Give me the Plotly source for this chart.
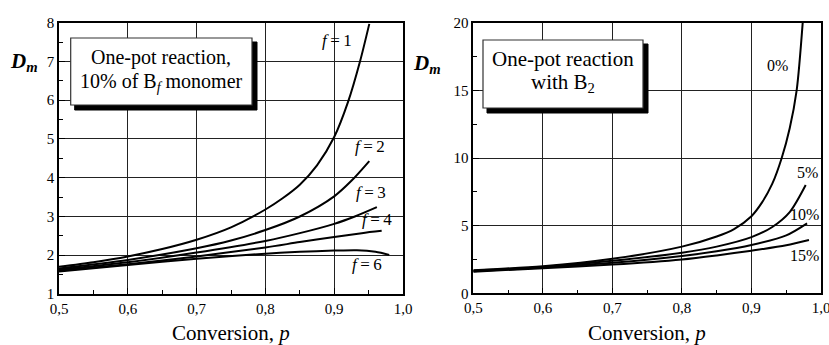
import plotly.graph_objects as go

# ---- data ----
p_f1 = [0.50, 0.55, 0.60, 0.65, 0.70, 0.75, 0.80, 0.825, 0.85, 0.875, 0.90, 0.92, 0.9375, 0.951]
D_f1 = [1.70, 1.82, 1.97, 2.16, 2.40, 2.72, 3.18, 3.47, 3.82, 4.32, 5.05, 5.95, 7.00, 7.97]
p_f2 = [0.50, 0.60, 0.70, 0.75, 0.80, 0.85, 0.90, 0.925, 0.951]
D_f2 = [1.66, 1.88, 2.18, 2.38, 2.65, 3.00, 3.52, 3.92, 4.43]
p_f3 = [0.50, 0.60, 0.70, 0.80, 0.85, 0.90, 0.93, 0.962]
D_f3 = [1.63, 1.82, 2.07, 2.37, 2.57, 2.81, 3.00, 3.24]
p_f4 = [0.50, 0.60, 0.70, 0.80, 0.85, 0.90, 0.94, 0.969]
D_f4 = [1.60, 1.77, 1.97, 2.20, 2.34, 2.47, 2.57, 2.63]
p_f6 = [0.50, 0.60, 0.70, 0.80, 0.85, 0.90, 0.933, 0.96, 0.980]
D_f6 = [1.58, 1.75, 1.91, 2.04, 2.09, 2.12, 2.13, 2.09, 2.01]
f_labels = ["<i>f</i>\u2009=\u20091", "<i>f</i>\u2009=\u20092", "<i>f</i>\u2009=\u20093",
            "<i>f</i>\u2009=\u20094", "<i>f</i>\u2009=\u20096"]

p_b0 = [0.50, 0.60, 0.70, 0.80, 0.85, 0.875, 0.90, 0.915, 0.93, 0.9435, 0.955, 0.965, 0.9737]
D_b0 = [1.70, 2.00, 2.55, 3.45, 4.20, 4.75, 5.70, 6.70, 8.10, 10.0, 12.2, 15.0, 20.0]
p_b5 = [0.50, 0.60, 0.70, 0.80, 0.85, 0.90, 0.93, 0.955, 0.978]
D_b5 = [1.67, 1.95, 2.40, 3.00, 3.45, 4.15, 4.90, 6.00, 8.00]
p_b10 = [0.50, 0.60, 0.70, 0.80, 0.85, 0.90, 0.95, 0.980]
D_b10 = [1.63, 1.90, 2.25, 2.75, 3.10, 3.57, 4.28, 5.17]
p_b15 = [0.50, 0.60, 0.70, 0.80, 0.85, 0.90, 0.95, 0.9827]
D_b15 = [1.60, 1.85, 2.12, 2.50, 2.80, 3.15, 3.55, 3.94]
b_labels = ["0%", "5%", "10%", "15%"]

x_ticks = [0.5, 0.6, 0.7, 0.8, 0.9, 1.0]

FONT = "Liberation Serif, Times New Roman, DejaVu Serif, serif"
W, H = 829, 345

fig = go.Figure()
line = dict(color="black", width=2)
for px, py in [(p_f1, D_f1), (p_f2, D_f2), (p_f3, D_f3), (p_f4, D_f4), (p_f6, D_f6)]:
    fig.add_trace(go.Scatter(x=px, y=py, mode="lines", line=dict(line, shape="spline", smoothing=0.8),
                             xaxis="x", yaxis="y", showlegend=False, hoverinfo="skip"))
for px, py in [(p_b0, D_b0), (p_b5, D_b5), (p_b10, D_b10), (p_b15, D_b15)]:
    fig.add_trace(go.Scatter(x=px, y=py, mode="lines", line=dict(line, shape="spline", smoothing=0.8),
                             xaxis="x2", yaxis="y2", showlegend=False, hoverinfo="skip"))

def xax(domain, anchor):
    return dict(domain=domain, anchor=anchor, range=[0.5, 1.0], tickvals=x_ticks,
                tickformat=".1f", showgrid=True, gridcolor="#222", gridwidth=1,
                showline=True, linecolor="black", linewidth=1.5, mirror=True,
                ticks="inside", ticklen=6, tickcolor="black", automargin=False,
                ticklabeloverflow="allow",
                minor=dict(dtick=0.05, ticks="inside", ticklen=4, tickcolor="black", showgrid=False),
                tickfont=dict(family=FONT, size=15, color="black"), zeroline=False)

def yax(domain, anchor, rng, dtick, mdtick):
    return dict(domain=domain, anchor=anchor, range=rng, dtick=dtick, tick0=0,
                showgrid=True, gridcolor="#222", gridwidth=1,
                showline=True, linecolor="black", linewidth=1.5, mirror=True,
                ticks="inside", ticklen=6, tickcolor="black", automargin=False,
                ticklabeloverflow="allow",
                minor=dict(dtick=mdtick, tick0=0, ticks="inside", ticklen=4, tickcolor="black", showgrid=False),
                tickfont=dict(family=FONT, size=15, color="black"), zeroline=False)

fig.update_layout(
    template="none",
    width=W, height=H, margin=dict(l=0, r=0, t=0, b=0, autoexpand=False),
    paper_bgcolor="white", plot_bgcolor="white", separators=", ",
    xaxis=xax([59 / W, 403 / W], "y"),
    yaxis=yax([(H - 294) / H, (H - 22.7) / H], "x", [1, 8], 1, 0.5),
    xaxis2=xax([473.3 / W, 821 / W], "y2"),
    yaxis2=yax([(H - 293.3) / H, (H - 22.7) / H], "x2", [0, 20], 5, 2.5),
    font=dict(family=FONT, color="black"),
)

# curve labels
f_pos = [(0.904, 7.55), (0.952, 4.8), (0.953, 3.61), (0.962, 2.91), (0.947, 1.75)]
for t, (x, y) in zip(f_labels, f_pos):
    fig.add_annotation(x=x, y=y, xref="x", yref="y", text=t, showarrow=False,
                       xanchor="center", yanchor="middle",
                       font=dict(family=FONT, size=17, color="black"))
b_pos = [(0.9375, 16.87), (0.9805, 8.95), (0.9765, 5.8), (0.9765, 2.8)]
for t, (x, y) in zip(b_labels, b_pos):
    fig.add_annotation(x=x, y=y, xref="x2", yref="y2", text=t, showarrow=False,
                       xanchor="center", yanchor="middle",
                       font=dict(family=FONT, size=16, color="black"))

# boxes with shadow
def box(x0, y0, x1, y1):
    fig.add_shape(type="rect", xref="paper", yref="paper",
                  x0=(x0 + 4) / W, x1=(x1 + 5) / W, y0=(H - y1 - 5) / H, y1=(H - y0 - 4) / H,
                  fillcolor="black", line=dict(color="black", width=1))
    fig.add_shape(type="rect", xref="paper", yref="paper",
                  x0=x0 / W, x1=x1 / W, y0=(H - y1) / H, y1=(H - y0) / H,
                  fillcolor="white", line=dict(color="#333", width=1.2))

box(70.7, 38, 252, 105)
box(483, 40, 643, 108)

def txt(x, y, t, size=20):
    fig.add_annotation(x=x / W, y=(H - y) / H, xref="paper", yref="paper", text=t,
                       xanchor="center", yanchor="middle",
                       showarrow=False, font=dict(family=FONT, size=size, color="black"))

txt(161, 57, "One-pot reaction,")
txt(161, 82, "10% of B<sub><i>f</i></sub> monomer")
txt(563, 59, "One-pot reaction", size=21)
txt(563, 83, "with B<sub>2</sub>", size=21)

txt(231, 333, "Conversion, <i>p</i>", size=21)
txt(647, 333, "Conversion, <i>p</i>", size=21)
txt(24, 62, "<b><i>D</i></b><sub><b><i>m</i></b></sub>", size=21)
txt(427, 64, "<b><i>D</i></b><sub><b><i>m</i></b></sub>", size=21)

fig.write_html("out.html", config={"displayModeBar": False},
               post_script="document.body.style.margin='0';document.body.style.padding='0';")
